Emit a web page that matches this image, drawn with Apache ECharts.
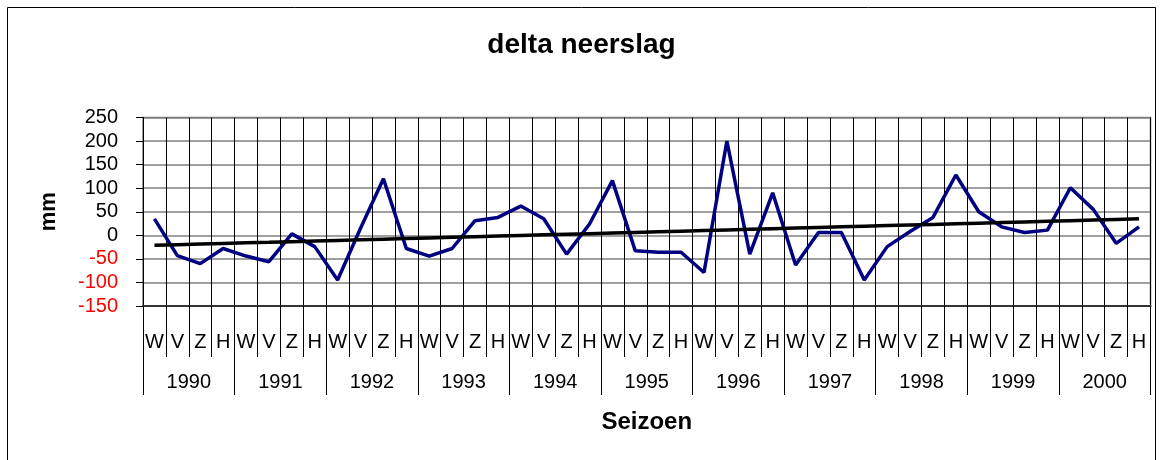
<!DOCTYPE html>
<html>
<head>
<meta charset="utf-8">
<script src="https://cdn.jsdelivr.net/npm/echarts@6/dist/echarts.min.js"></script>
<style>
  html, body { margin: 0; padding: 0; background: #fff; }
  #chart { width: 1163px; height: 460px; }
</style>
</head>
<body>
<div id="chart"></div>
<script>
  var years = ['1990', '1991', '1992', '1993', '1994', '1995', '1996', '1997', '1998', '1999', '2000']
  var seasonNames = ['W', 'V', 'Z', 'H']
  // delta neerslag per seizoen (mm), W V Z H per jaar
  var delta1990 = [35, -43, -60, -28]
  var delta1991 = [-44, -56, 3, -24]
  var delta1992 = [-95, 15, 120, -28]
  var delta1993 = [-44, -28, 31, 38]
  var delta1994 = [62, 35, -40, 24]
  var delta1995 = [116, -33, -36, -36]
  var delta1996 = [-79, 200, -40, 90]
  var delta1997 = [-63, 6, 6, -95]
  var delta1998 = [-24, 8, 38, 128]
  var delta1999 = [50, 18, 6, 11]
  var delta2000 = [101, 55, -17, 18]
  var yTicks = [-150, -100, -50, 0, 50, 100, 150, 200, 250]

  var font = 'Liberation Sans, Arial, sans-serif'

  var seasons = []
  years.forEach(function () { seasons = seasons.concat(seasonNames) })
  var values = [].concat(delta1990, delta1991, delta1992, delta1993, delta1994,
    delta1995, delta1996, delta1997, delta1998, delta1999, delta2000)

  // lineaire trendlijn (kleinste kwadraten), zoals in Excel
  var n = values.length, sx = 0, sy = 0, sxx = 0, sxy = 0
  values.forEach(function (v, i) { sx += i; sy += v; sxx += i * i; sxy += i * v })
  var slope = (n * sxy - sx * sy) / (n * sxx - sx * sx)
  var icept = (sy - slope * sx) / n
  var trend = values.map(function (v, i) { return +(icept + slope * i).toFixed(2) })

  var myChart = echarts.init(document.getElementById('chart'))
  var option = {
    animation: false,
    title: {
      text: 'delta neerslag',
      left: 'center',
      top: 26,
      textStyle: { fontFamily: font, fontSize: 28, fontWeight: 'bold', color: '#000' }
    },
    graphic: [{
      type: 'rect',
      shape: { x: 7.5, y: 7.5, width: 1148, height: 470 },
      style: { fill: 'none', stroke: '#000', lineWidth: 1 },
      silent: true
    }],
    grid: {
      left: 143, right: 12.5, top: 117.5, bottom: 154,
      show: true, borderColor: '#808080', borderWidth: 1.5
    },
    xAxis: [
      {
        type: 'category',
        data: seasons,
        boundaryGap: true,
        axisLine: { onZero: false, lineStyle: { color: '#333', width: 2 } },
        axisTick: { show: true, interval: 0, length: 51, lineStyle: { color: '#000', width: 1 } },
        axisLabel: { interval: 0, margin: 26, color: '#000', fontFamily: font, fontSize: 20 },
        splitLine: { show: true, interval: 0, lineStyle: { color: '#000', width: 1 } },
        name: 'Seizoen',
        nameLocation: 'middle',
        nameGap: 104,
        nameTextStyle: { fontFamily: font, fontSize: 24, fontWeight: 'bold', color: '#000' }
      },
      {
        type: 'category',
        data: years,
        position: 'bottom',
        boundaryGap: true,
        axisLine: { show: false, onZero: false },
        axisTick: { show: true, interval: 0, length: 89, lineStyle: { color: '#000', width: 1 } },
        axisLabel: { interval: 0, margin: 66, color: '#000', fontFamily: font, fontSize: 20 },
        splitLine: { show: false }
      }
    ],
    yAxis: {
      type: 'value',
      min: yTicks[0],
      max: yTicks[yTicks.length - 1],
      interval: 50,
      axisLine: { show: true, lineStyle: { color: '#000', width: 1 } },
      axisTick: { show: true, length: 7, lineStyle: { color: '#000' } },
      axisLabel: {
        margin: 25,
        fontFamily: font,
        fontSize: 20,
        color: function (val) { return Number(val) < 0 ? '#ff0000' : '#000' }
      },
      splitLine: { show: true, lineStyle: { color: '#808080', width: 1.5 } },
      name: 'mm',
      nameLocation: 'middle',
      nameRotate: 90,
      nameGap: 83,
      nameTextStyle: { fontFamily: font, fontSize: 22, fontWeight: 'bold', color: '#000' }
    },
    series: [
      {
        name: 'delta neerslag',
        type: 'line',
        data: values,
        symbol: 'none',
        lineStyle: { color: '#000080', width: 3.5 },
        z: 3
      },
      {
        name: 'trend',
        type: 'line',
        data: trend,
        symbol: 'none',
        lineStyle: { color: '#000', width: 3.5 },
        z: 4
      }
    ]
  }
  myChart.setOption(option)
</script>
</body>
</html>
